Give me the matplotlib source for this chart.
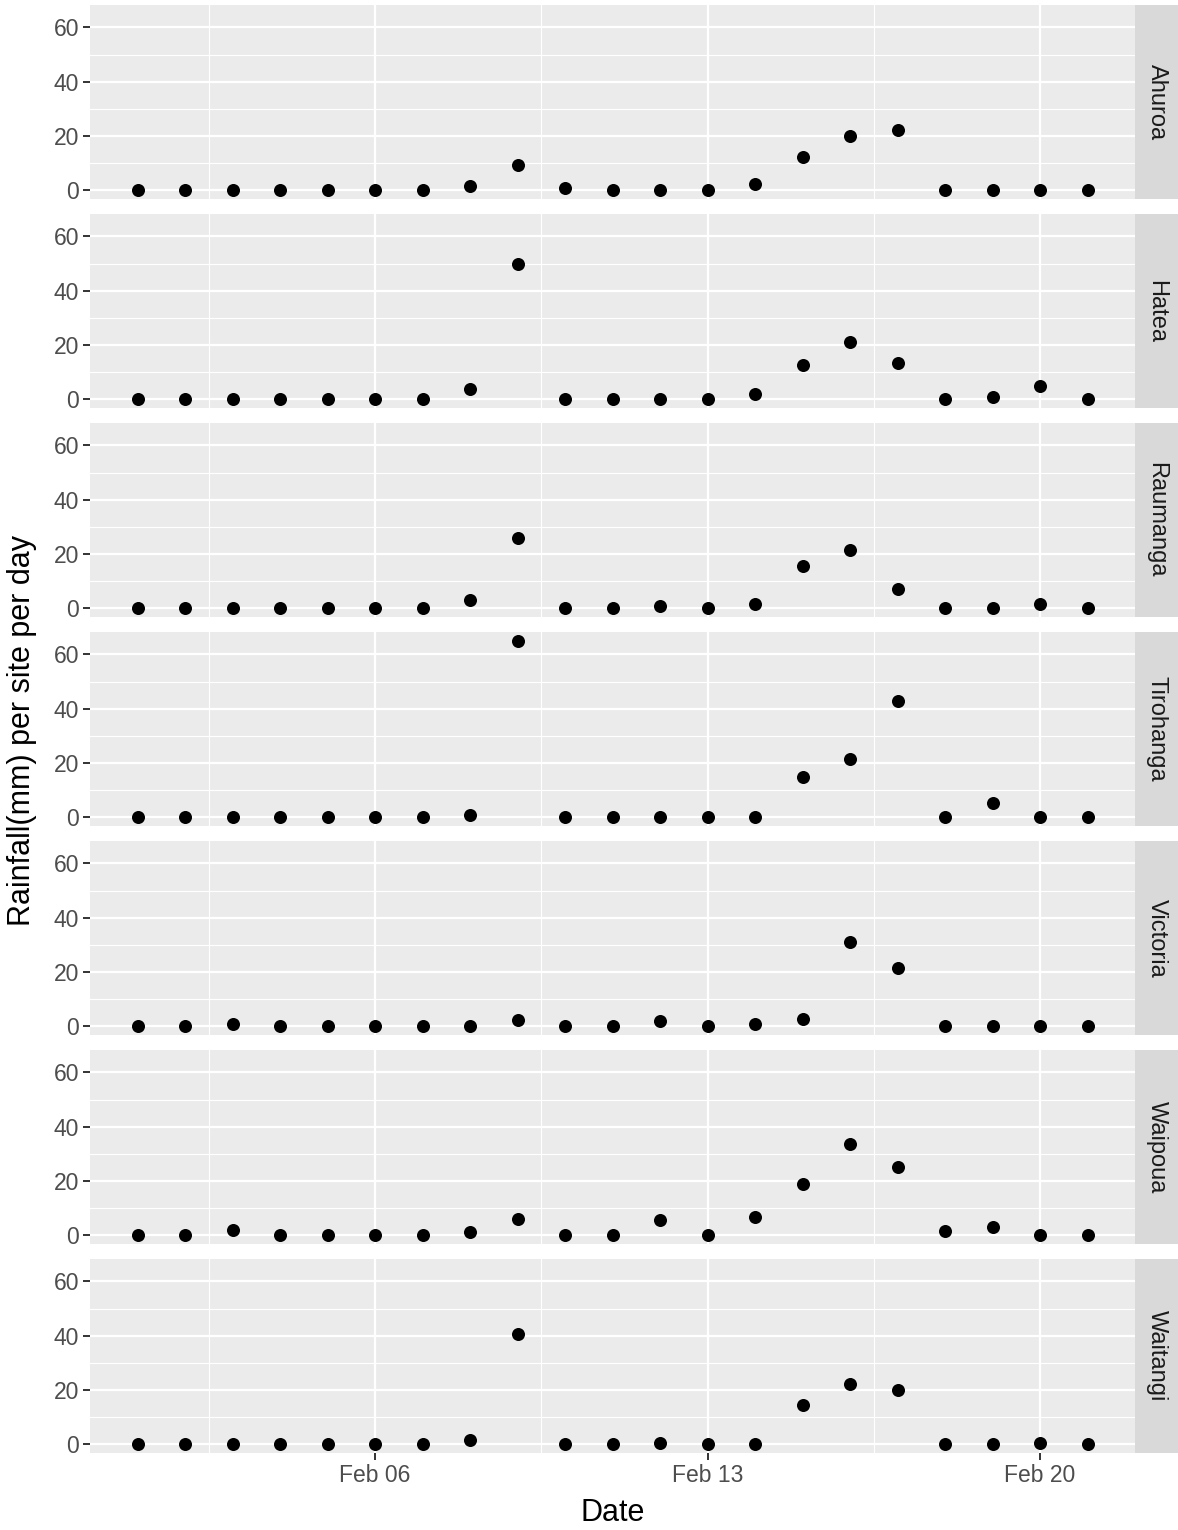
import matplotlib
matplotlib.use("Agg")
import matplotlib.pyplot as plt
import matplotlib.dates as mdates
import numpy as np
import datetime as dt

dates = [dt.date(2018, 2, d) for d in range(1, 22)]
sites = ["Ahuroa", "Hatea", "Raumanga", "Tirohanga", "Victoria", "Waipoua", "Waitangi"]

ahuroa    = [0, 0, 0, 0, 0, 0, 0, 1.5, 9.2, 0.7, 0, 0, 0, 2.2, 12.1, 19.8, 22.0, 0, 0, 0, 0]
hatea     = [0, 0, 0, 0, 0, 0, 0, 3.7, 49.7, 0, 0, 0, 0, 1.8, 12.5, 21.0, 13.2, 0, 0.9, 4.8, 0]
raumanga  = [0, 0, 0, 0, 0, 0, 0, 2.9, 25.8, 0, 0, 0.7, 0, 1.5, 15.5, 21.3, 7.0, 0, 0, 1.5, 0]
tirohanga = [0, 0, 0, 0, 0, 0, 0, 0.7, 65.0, 0, 0, 0, 0, 0, 14.7, 21.6, 42.8, 0, 5.1, 0, 0]
victoria  = [0, 0, 0.7, 0, 0, 0, 0, 0, 2.2, 0, 0, 1.8, 0, 0.7, 2.6, 31.0, 21.6, 0, 0, 0, 0]
waipoua   = [0, 0, 1.8, 0, 0, 0, 0, 1.1, 5.9, 0, 0, 5.5, 0, 6.6, 19.0, 33.7, 25.2, 1.5, 2.9, 0, 0]
waitangi  = [0, 0, 0, 0, 0, 0, 0, 1.5, 40.6, 0, 0, 0.4, 0, 0, 14.6, 22.0, 19.8, 0, 0, 0.4, 0]
series = [ahuroa, hatea, raumanga, tirohanga, victoria, waipoua, waitangi]

y_ticks = [0, 20, 40, 60]
x_tick_dates = [dt.date(2018, 2, 6), dt.date(2018, 2, 13), dt.date(2018, 2, 20)]
x_tick_labels = ["Feb 06", "Feb 13", "Feb 20"]

W, H = 1178, 1530
fig = plt.figure(figsize=(W / 100, H / 100), dpi=100)
plt.rcParams['font.family'] = ['Liberation Sans', 'DejaVu Sans']

left, right, strip_w = 90, 1135, 43
top0, ph, gap = 5, 194, 15

xn = mdates.date2num(dates)
xmin, xmax = xn[0] - 1, xn[-1] + 1
allmax = max(max(s) for s in series)
ymin, ymax = -0.05 * allmax, allmax * 1.05

minor_x = []
maj = mdates.date2num(x_tick_dates)
step = maj[1] - maj[0]
m = maj[0] - step / 2
while m < xmax:
    if m > xmin:
        minor_x.append(m)
    m += step

for i, (name, vals) in enumerate(zip(sites, series)):
    t = top0 + i * (ph + gap)
    ax = fig.add_axes([left / W, 1 - (t + ph) / H, (right - left) / W, ph / H])
    ax.set_facecolor("#EBEBEB")
    for s in ax.spines.values():
        s.set_visible(False)
    ax.set_xlim(xmin, xmax)
    ax.set_ylim(ymin, ymax)
    for yv in [10, 30, 50]:
        ax.axhline(yv, color="white", lw=0.8, zorder=0)
    for yv in y_ticks:
        ax.axhline(yv, color="white", lw=1.6, zorder=0)
    for xv in minor_x:
        ax.axvline(xv, color="white", lw=0.8, zorder=0)
    for xv in maj:
        ax.axvline(xv, color="white", lw=1.6, zorder=0)
    ax.scatter(xn, vals, s=88, color="black", zorder=3, linewidths=0)
    ax.set_yticks(y_ticks)
    ax.set_yticklabels([str(v) for v in y_ticks])
    ax.tick_params(axis="y", length=5, width=1.4, color="#333333", labelsize=16.5,
                   labelcolor="#4D4D4D", pad=3)
    ax.set_xticks(maj)
    if i == len(sites) - 1:
        ax.set_xticklabels(x_tick_labels)
        ax.tick_params(axis="x", length=5, width=1.4, color="#333333", labelsize=16.5,
                       labelcolor="#4D4D4D", pad=3)
    else:
        ax.tick_params(axis="x", length=0, labelbottom=False)
    # strip
    sax = fig.add_axes([right / W, 1 - (t + ph) / H, strip_w / W, ph / H])
    sax.set_facecolor("#D9D9D9")
    for s in sax.spines.values():
        s.set_visible(False)
    sax.set_xticks([]); sax.set_yticks([])
    sax.text(0.5, 0.5, name, rotation=-90, ha="center", va="center",
             fontsize=17, color="#1A1A1A", transform=sax.transAxes)

fig.text((left + right) / 2 / W, 1 - 1513 / H, "Date", ha="center", va="center",
         fontsize=22, color="black")
fig.text(22 / W, 1 - 730 / H, "Rainfall(mm) per site per day", ha="center", va="center",
         rotation=90, fontsize=22, color="black")

fig.savefig("out.png", dpi=100, facecolor="white")
